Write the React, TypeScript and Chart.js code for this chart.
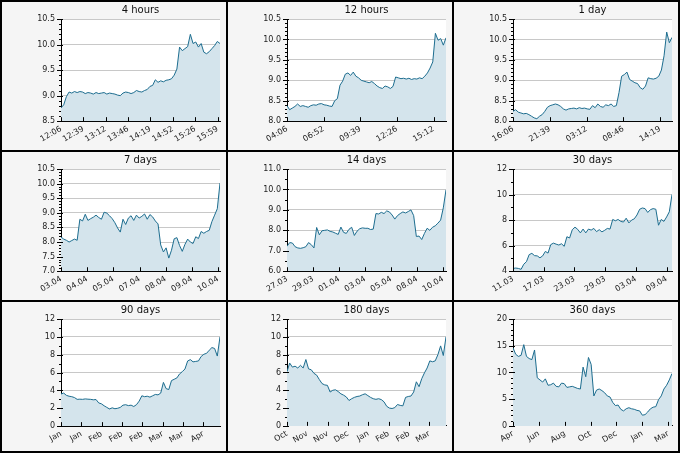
import React, { useRef, useEffect } from 'react'
import { Chart, registerables } from 'chart.js'

Chart.register(...registerables)

// sampled prices per window (evenly spaced samples, left to right)
const values4h = [
  8.76, 8.82, 8.98, 9.07, 9.05, 9.08, 9.06, 9.08, 9.07, 9.04, 9.06, 9.05, 9.03, 9.06, 9.04,
  9.05, 9.06, 9.03, 9.05, 9.04, 9.03, 9.01, 9.0, 9.05, 9.07, 9.06, 9.04, 9.06, 9.1, 9.08,
  9.07, 9.1, 9.12, 9.18, 9.2, 9.31, 9.26, 9.29, 9.27, 9.3, 9.31, 9.33, 9.4, 9.52, 9.95,
  9.88, 9.92, 9.96, 10.2, 10.02, 10.05, 9.95, 10.02, 9.85, 9.82, 9.86, 9.92, 9.98, 10.06, 10.02,
]
const values12h = [
  8.38, 8.28, 8.32, 8.36, 8.42, 8.36, 8.38, 8.36, 8.34, 8.38, 8.4, 8.39, 8.42, 8.43, 8.4,
  8.39, 8.37, 8.36, 8.5, 8.55, 8.88, 8.98, 9.15, 9.18, 9.12, 9.2, 9.1, 9.06, 9.0, 8.98,
  8.96, 8.94, 8.97, 8.92, 8.86, 8.82, 8.8, 8.86, 8.84, 8.8, 8.85, 9.08, 9.06, 9.04, 9.05,
  9.03, 9.05, 9.02, 9.04, 9.03, 9.06, 9.04, 9.1, 9.18, 9.3, 9.45, 10.15, 9.98, 10.02, 9.86, 10.04,
]
const values1d = [
  8.24, 8.28, 8.22, 8.2, 8.18, 8.19, 8.16, 8.12, 8.08, 8.06, 8.12, 8.16, 8.24, 8.34, 8.38,
  8.4, 8.42, 8.4, 8.36, 8.3, 8.27, 8.3, 8.31, 8.32, 8.3, 8.33, 8.31, 8.32, 8.3, 8.29,
  8.38, 8.33, 8.42, 8.36, 8.34, 8.4, 8.38, 8.42, 8.36, 8.38, 8.7, 9.1, 9.14, 9.2, 9.02,
  8.98, 8.94, 8.92, 8.82, 8.78, 8.86, 9.06, 9.04, 9.03, 9.05, 9.1, 9.25, 9.6, 10.18, 9.92, 10.05,
]
const values7d = [
  8.17, 8.1, 8.06, 8.0, 8.05, 8.1, 8.06, 8.78, 8.72, 8.95, 8.74, 8.8, 8.85, 8.92, 8.84,
  8.78, 9.02, 8.99, 8.9, 8.8, 8.66, 8.48, 8.34, 8.78, 8.6, 8.82, 8.9, 8.74, 8.92, 8.82,
  8.88, 8.96, 8.78, 8.94, 8.86, 8.72, 8.62, 7.9, 7.66, 7.8, 7.45, 7.72, 8.11, 8.15, 7.88,
  7.68, 7.92, 8.1, 8.0, 7.95, 8.18, 8.12, 8.36, 8.3, 8.36, 8.4, 8.7, 8.92, 9.14, 10.02,
]
const values14d = [
  7.22, 7.4, 7.38, 7.2, 7.14, 7.12, 7.15, 7.2, 7.4, 7.3, 7.14, 8.14, 7.78, 7.98, 8.0,
  8.02, 7.95, 7.92, 7.86, 7.8, 8.16, 7.9, 7.85, 8.05, 8.15, 7.75, 7.96, 8.08, 8.12, 8.1,
  8.1, 8.04, 8.06, 8.82, 8.8, 8.88, 8.82, 8.95, 8.9, 8.75, 8.55, 8.72, 8.82, 8.9, 8.85,
  8.92, 9.0, 8.72, 7.7, 7.72, 7.55, 7.85, 8.1, 8.0, 8.15, 8.22, 8.35, 8.5, 9.1, 9.98,
]
const values30d = [
  4.22, 4.25, 4.22, 4.15, 4.55, 4.75, 5.3, 5.4, 5.22, 5.2, 5.05, 5.2, 5.55, 5.42, 6.08,
  6.2, 6.12, 6.05, 6.15, 5.95, 6.7, 6.6, 7.25, 7.45, 7.28, 7.0, 7.3, 7.0, 7.3, 7.22,
  7.35, 7.1, 7.25, 7.08, 7.2, 7.35, 7.3, 8.05, 7.95, 8.05, 7.9, 7.85, 8.15, 7.78, 8.0,
  8.1, 8.4, 8.85, 8.95, 8.9, 8.6, 8.82, 8.9, 8.85, 7.6, 8.05, 7.9, 8.25, 8.65, 10.0,
]
const values90d = [
  3.6, 3.7, 3.45, 3.35, 3.3, 3.2, 3.0, 3.02, 3.0, 3.05, 3.02, 3.0, 2.95, 2.98, 2.6,
  2.5, 2.28, 2.1, 1.92, 2.05, 1.95, 2.0, 2.1, 2.35, 2.4, 2.3, 2.35, 2.2, 2.4, 2.8,
  3.4, 3.3, 3.35, 3.25, 3.4, 3.55, 3.5, 3.7, 4.9, 4.2, 4.1, 5.1, 5.25, 5.4, 5.85,
  6.1, 6.4, 7.3, 7.45, 7.2, 7.25, 7.3, 7.8, 8.05, 8.15, 8.5, 8.8, 8.7, 7.85, 10.0,
]
const values180d = [
  6.1, 7.05, 6.6, 6.7, 6.5, 6.8, 6.5, 7.45, 6.4, 6.3, 5.9, 5.7, 5.2, 4.75, 4.6,
  4.55, 3.8, 4.0, 4.05, 3.85, 3.6, 3.45, 3.25, 2.85, 3.05, 3.2, 3.3, 3.35, 3.5, 3.6,
  3.4, 3.2, 3.05, 2.98, 3.05, 2.95, 2.7, 2.2, 2.0, 1.95, 2.05, 2.4, 2.3, 2.25, 3.2,
  3.3, 3.35, 3.8, 4.95, 4.4, 5.3, 5.95, 6.5, 7.3, 7.2, 7.3, 8.0, 8.98, 7.9, 10.0,
]
const values360d = [
  14.6, 13.4, 13.0, 13.2, 15.2, 13.0, 12.6, 12.4, 14.2, 9.0, 8.6, 8.2, 8.8, 7.6, 7.7,
  8.0, 7.4, 7.3, 8.0, 7.9, 7.2, 7.3, 7.4, 7.2, 7.0, 6.9, 11.0, 9.2, 12.8, 11.5,
  5.6, 6.7, 6.9, 6.6, 6.2, 5.6, 5.4, 4.4, 3.8, 3.9, 3.1, 2.8, 3.2, 3.4, 3.2,
  3.1, 2.9, 2.8, 2.0, 2.1, 2.6, 3.2, 3.5, 3.6, 4.9, 5.6, 6.9, 7.6, 8.6, 9.8,
]

// x tick labels per window
const ticks4h = ['12:06', '12:39', '13:12', '13:46', '14:19', '14:52', '15:26', '15:59']
const ticks12h = ['04:06', '06:52', '09:39', '12:26', '15:12']
const ticks1d = ['16:06', '21:39', '03:12', '08:46', '14:19']
const ticks7d = ['03.04', '04.04', '05.04', '07.04', '08.04', '09.04', '10.04']
const ticks14d = ['27.03', '29.03', '01.04', '03.04', '05.04', '08.04', '10.04']
const ticks30d = ['11.03', '17.03', '23.03', '29.03', '03.04', '09.04']
const ticks90d = ['Jan', 'Jan', 'Feb', 'Feb', 'Feb', 'Mar', 'Mar', 'Apr']
const ticks180d = ['Oct', 'Nov', 'Nov', 'Dec', 'Jan', 'Feb', 'Feb', 'Mar']
const ticks360d = ['Apr', 'Jun', 'Aug', 'Oct', 'Dec', 'Jan', 'Mar']

// x tick spacing, in samples
const tickSteps = [8.3, 13.83, 13.88, 9.71, 9.65, 11.4, 7.55, 7.55, 9.6]

// y axis: [min, max, major step, minor step, decimals]
const yAxes = [
  [8.5, 10.5, 0.5, 0.1, 1],
  [8.0, 10.5, 0.5, 0.1, 1],
  [8.0, 10.5, 0.5, 0.1, 1],
  [7.0, 10.5, 0.5, 0.1, 1],
  [6.0, 11.0, 1.0, 0.5, 1],
  [4, 12, 2, 1, 0],
  [0, 12, 2, 1, 0],
  [0, 12, 2, 1, 0],
  [0, 20, 5, 1, 0],
]

const titles = ['4 hours', '12 hours', '1 day', '7 days', '14 days', '30 days', '90 days', '180 days', '360 days']
const allValues = [values4h, values12h, values1d, values7d, values14d, values30d, values90d, values180d, values360d]
const allTicks = [ticks4h, ticks12h, ticks1d, ticks7d, ticks14d, ticks30d, ticks90d, ticks180d, ticks360d]

const FONT = 'DejaVu Sans'
const isMajor = (v: number, major: number) => Math.abs(v / major - Math.round(v / major)) < 1e-6

// panel background, white plot area and hand drawn tick marks
const framePlugin = {
  id: 'frame',
  beforeDraw(chart: any) {
    const { ctx, chartArea: a } = chart
    ctx.save()
    ctx.fillStyle = '#f5f5f5'
    ctx.fillRect(0, 0, chart.width, chart.height)
    ctx.fillStyle = '#ffffff'
    ctx.fillRect(a.left, a.top, a.right - a.left, a.bottom - a.top)
    ctx.restore()
  },
  afterDraw(chart: any, _args: any, opts: any) {
    const { ctx, chartArea: a, scales } = chart
    ctx.save()
    ctx.strokeStyle = '#000'
    ctx.lineWidth = 1
    ctx.beginPath()
    for (const t of scales.y.ticks) {
      const py = Math.round(scales.y.getPixelForValue(t.value)) + 0.5
      const major = isMajor(t.value, opts.major)
      ctx.moveTo(a.left - (major ? 4 : 2), py)
      ctx.lineTo(a.left + (major ? 2 : 0), py)
    }
    for (const t of scales.x.ticks) {
      const px = Math.round(scales.x.getPixelForValue(t.value)) + 0.5
      ctx.moveTo(px, a.bottom)
      ctx.lineTo(px, a.bottom - 4)
    }
    ctx.stroke()
    ctx.restore()
  },
}

const Panel = ({ idx, height }: { idx: number; height: number }) => {
  const chartRef = useRef<HTMLCanvasElement>(null)

  useEffect(() => {
    if (!chartRef.current) return
    const ctx = chartRef.current.getContext('2d')
    if (!ctx) return
    const values = allValues[idx]
    const labels = allTicks[idx]
    const step = tickSteps[idx]
    const [yMin, yMax, major, minor, dec] = yAxes[idx]

    const chart = new Chart(ctx, {
      type: 'line',
      data: {
        datasets: [
          {
            data: values.map((v, i) => ({ x: i, y: v })),
            borderColor: '#1d6d8f',
            backgroundColor: '#d4e4ec',
            borderWidth: 1,
            pointRadius: 0,
            fill: 'start',
            tension: 0,
          },
        ],
      },
      options: {
        responsive: false,
        animation: false,
        layout: { padding: { top: 0, right: 6, bottom: 3, left: 0 } },
        plugins: {
          legend: { display: false },
          tooltip: { enabled: false },
          title: {
            display: true,
            text: titles[idx],
            fullSize: false,
            color: '#111',
            font: { family: FONT, size: 10, weight: 'normal' },
            padding: { top: 2, bottom: 3 },
          },
          frame: { major },
        } as any,
        scales: {
          x: {
            type: 'linear',
            min: 0,
            max: values.length - 1,
            afterBuildTicks: (axis: any) => {
              axis.ticks = labels.map((_, k) => ({ value: k * step }))
            },
            grid: { display: false, drawTicks: false },
            border: { display: true, color: '#000', width: 1 },
            ticks: {
              autoSkip: false,
              minRotation: 30,
              maxRotation: 30,
              padding: 3,
              color: '#222',
              font: { family: FONT, size: 8 },
              callback: (_v: any, k: number) => labels[k],
            },
          },
          y: {
            type: 'linear',
            min: yMin,
            max: yMax,
            afterFit: (axis: any) => {
              axis.width = 59
            },
            afterBuildTicks: (axis: any) => {
              const n = Math.round((yMax - yMin) / minor)
              const t = []
              for (let k = 0; k <= n; k++) t.push({ value: +(yMin + k * minor).toFixed(4) })
              axis.ticks = t
            },
            grid: {
              drawTicks: false,
              color: (c: any) =>
                c.tick && isMajor(c.tick.value, major) && c.tick.value > yMin ? '#c8c8c8' : 'rgba(0,0,0,0)',
            },
            border: { display: true, color: '#000', width: 1 },
            ticks: {
              autoSkip: false,
              padding: 6,
              color: '#222',
              font: { family: FONT, size: 8 },
              callback: (v: any) => (isMajor(Number(v), major) ? Number(v).toFixed(dec) : ''),
            },
          },
        },
      },
      plugins: [framePlugin],
    })

    return () => {
      chart.destroy()
    }
  }, [idx])

  return <canvas ref={chartRef} width={224} height={height} style={{ display: 'block' }}></canvas>
}

export default function App() {
  return (
    <div
      style={{
        position: 'fixed',
        left: 0,
        top: 0,
        width: 680,
        height: 453,
        boxSizing: 'border-box',
        background: '#000',
        padding: 2,
        display: 'grid',
        gridTemplateColumns: '224px 224px 224px',
        gridTemplateRows: '148px 148px 149px',
        gap: 2,
      }}
    >
      {titles.map((_, i) => (
        <Panel key={i} idx={i} height={i >= 6 ? 149 : 148} />
      ))}
    </div>
  )
}
